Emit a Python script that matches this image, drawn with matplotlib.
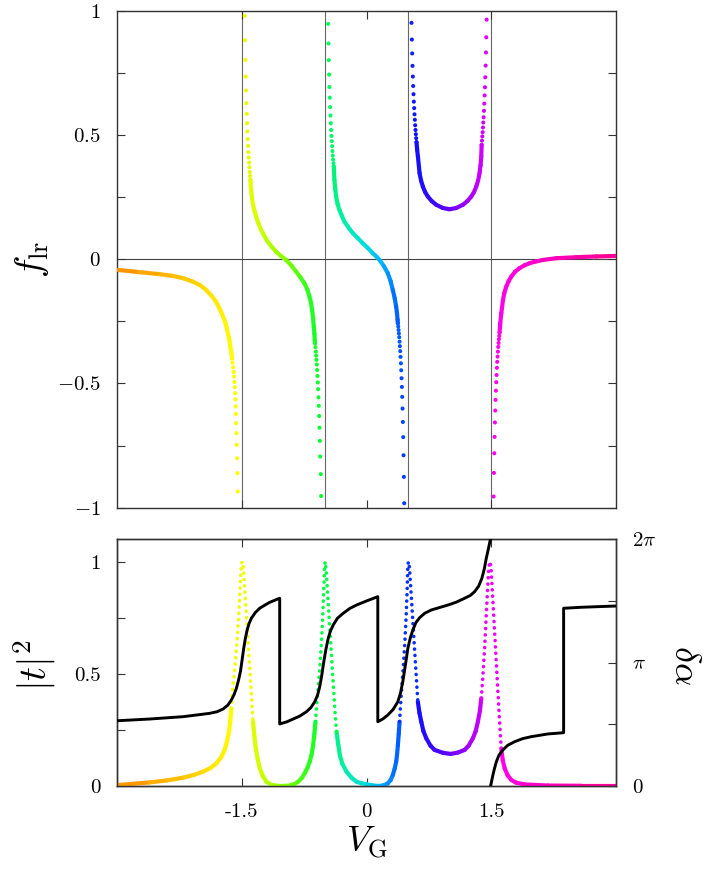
import numpy as np
import matplotlib
matplotlib.use('Agg')
import matplotlib.pyplot as plt
from matplotlib.collections import LineCollection
from matplotlib.colors import LinearSegmentedColormap, Normalize

plt.rcParams['mathtext.fontset'] = 'cm'
plt.rcParams['font.family'] = 'cmr10'
plt.rcParams['axes.formatter.use_mathtext'] = True

# ---------------- top panel: f_lr, one list per branch ----------------
# branch 1 (V_G < -1.5)
b1_line_v = [-3.0, -2.735, -2.5, -2.334, -2.2, -2.093, -2.0, -1.931, -1.87, -1.811,
             -1.76, -1.711, -1.68, -1.651, -1.635, -1.618]
b1_line_f = [-0.043, -0.052, -0.060, -0.067, -0.077, -0.090, -0.105, -0.124, -0.145, -0.171,
             -0.205, -0.244, -0.280, -0.324, -0.360, -0.399]
b1_dots_v = [-1.618, -1.615, -1.606, -1.598, -1.594, -1.590, -1.586, -1.582, -1.578,
             -1.574, -1.572, -1.570, -1.566, -1.562, -1.558, -1.554, -1.550]
b1_dots_f = [-0.399, -0.416, -0.435, -0.454, -0.472, -0.494, -0.515, -0.539, -0.564,
             -0.592, -0.623, -0.660, -0.700, -0.747, -0.801, -0.861, -0.935]

# branch 2 (-1.5 .. -0.5)
b2_dots_top_v = [-1.466, -1.462, -1.458, -1.454, -1.450, -1.446, -1.442, -1.438, -1.434,
                 -1.430, -1.426, -1.422, -1.418, -1.414, -1.410, -1.406, -1.402, -1.398]
b2_dots_top_f = [0.979, 0.881, 0.802, 0.735, 0.679, 0.628, 0.585, 0.547, 0.514,
                 0.483, 0.456, 0.431, 0.409, 0.389, 0.370, 0.351, 0.335, 0.319]
b2_line_v = [-1.398, -1.390, -1.370, -1.350, -1.329, -1.300, -1.269, -1.229, -1.189, -1.140,
             -1.088, -1.030, -0.968, -0.905, -0.847, -0.795, -0.747, -0.712, -0.687, -0.668,
             -0.655, -0.643, -0.635, -0.627, -0.623, -0.619]
b2_line_f = [0.319, 0.279, 0.225, 0.196, 0.172, 0.143, 0.118, 0.093, 0.070, 0.050,
             0.030, 0.013, -0.003, -0.025, -0.050, -0.073, -0.097, -0.122, -0.150, -0.176,
             -0.204, -0.238, -0.271, -0.300, -0.325, -0.338]
b2_dots_bot_v = [-0.619, -0.615, -0.610, -0.606, -0.602, -0.598, -0.594, -0.590, -0.586,
                 -0.582, -0.578, -0.574, -0.570, -0.566, -0.562, -0.558, -0.550, -0.546]
b2_dots_bot_f = [-0.338, -0.354, -0.372, -0.388, -0.405, -0.424, -0.446, -0.470, -0.496,
                 -0.523, -0.556, -0.590, -0.631, -0.678, -0.731, -0.794, -0.865, -0.953]

# branch 3 (-0.5 .. 0.5)
b3_dots_top_v = [-0.462, -0.458, -0.454, -0.450, -0.446, -0.442, -0.438, -0.434, -0.430,
                 -0.426, -0.422, -0.418, -0.414, -0.410, -0.406, -0.402, -0.398, -0.394]
b3_dots_top_f = [0.947, 0.868, 0.801, 0.743, 0.693, 0.650, 0.612, 0.578, 0.547,
                 0.520, 0.496, 0.475, 0.455, 0.435, 0.417, 0.401, 0.386, 0.373]
b3_line_v = [-0.394, -0.386, -0.376, -0.366, -0.348, -0.325, -0.295, -0.265, -0.205, -0.165,
             -0.105, -0.044, 0.016, 0.076, 0.118, 0.157, 0.210, 0.257, 0.290, 0.317,
             0.340, 0.357, 0.368, 0.374, 0.378]
b3_line_f = [0.373, 0.319, 0.282, 0.252, 0.222, 0.198, 0.173, 0.151, 0.122, 0.105,
             0.085, 0.064, 0.045, 0.024, 0.011, -0.003, -0.028, -0.057, -0.088, -0.124,
             -0.158, -0.191, -0.220, -0.244, -0.258]
b3_dots_bot_v = [0.378, 0.382, 0.386, 0.390, 0.394, 0.398, 0.402, 0.406, 0.410, 0.414,
                 0.418, 0.422, 0.426, 0.430, 0.434, 0.438, 0.442, 0.446, 0.450, 0.454]
b3_dots_bot_f = [-0.258, -0.271, -0.285, -0.299, -0.314, -0.332, -0.350, -0.370, -0.393, -0.419,
                 -0.447, -0.479, -0.514, -0.554, -0.601, -0.655, -0.716, -0.789, -0.876, -0.982]

# branch 4 (0.5 .. 1.5)
b4_dots_left_v = [0.542, 0.546, 0.550, 0.554, 0.558, 0.562, 0.566, 0.570,
                  0.574, 0.578, 0.582, 0.586, 0.590, 0.594, 0.598, 0.602]
b4_dots_left_f = [0.951, 0.884, 0.828, 0.778, 0.735, 0.697, 0.664, 0.634,
                  0.608, 0.583, 0.561, 0.539, 0.520, 0.503, 0.487, 0.471]
b4_line_v = [0.602, 0.610, 0.619, 0.639, 0.657, 0.679, 0.706, 0.739, 0.785, 0.839,
             0.920, 1.000, 1.080, 1.161, 1.215, 1.261, 1.294, 1.321, 1.343, 1.361,
             1.373, 1.382, 1.386]
b4_line_f = [0.471, 0.440, 0.413, 0.346, 0.316, 0.292, 0.270, 0.252, 0.234, 0.219,
             0.206, 0.201, 0.206, 0.219, 0.234, 0.252, 0.270, 0.292, 0.316, 0.346,
             0.378, 0.413, 0.460]
b4_dots_right_v = [1.386, 1.390, 1.394, 1.398, 1.402, 1.406, 1.410, 1.414,
                   1.418, 1.422, 1.426, 1.430, 1.434, 1.438, 1.442, 1.446]
b4_dots_right_f = [0.460, 0.477, 0.494, 0.511, 0.530, 0.550, 0.571, 0.597,
                   0.626, 0.659, 0.692, 0.732, 0.779, 0.832, 0.893, 0.964]

# branch 5 (V_G > 1.5)
b5_dots_v = [1.530, 1.534, 1.538, 1.542, 1.546, 1.550, 1.554, 1.558, 1.562, 1.566,
             1.570, 1.574, 1.578, 1.582, 1.586, 1.590, 1.594, 1.598, 1.602]
b5_dots_f = [-0.955, -0.860, -0.781, -0.715, -0.657, -0.609, -0.566, -0.529, -0.495, -0.466,
             -0.437, -0.413, -0.392, -0.372, -0.353, -0.337, -0.322, -0.309, -0.295]
b5_line_v = [1.602, 1.610, 1.623, 1.643, 1.660, 1.683, 1.710, 1.743, 1.790, 1.843,
             1.900, 1.964, 2.040, 2.125, 2.285, 2.526, 2.767, 3.0]
b5_line_f = [-0.295, -0.258, -0.217, -0.164, -0.135, -0.110, -0.089, -0.070, -0.050, -0.036,
             -0.025, -0.016, -0.009, -0.003, 0.004, 0.008, 0.011, 0.013]

poles = [-1.5, -0.5, 0.5, 1.5]

# ---------------- bottom panel: |t|^2 ----------------
tail_left_v = [-3.0, -2.61, -2.4, -2.209, -2.08, -1.968, -1.88, -1.807, -1.75, -1.707,
               -1.68, -1.655, -1.64, -1.627]
tail_left_t = [0.004, 0.016, 0.025, 0.037, 0.049, 0.064, 0.080, 0.101, 0.128, 0.161,
               0.198, 0.242, 0.290, 0.346]
peak1_v = [-1.627, -1.614, -1.586, -1.558, -1.538, -1.522, -1.506, -1.496, -1.486,
           -1.466, -1.446, -1.426, -1.406, -1.386, -1.366]
peak1_t = [0.346, 0.421, 0.525, 0.643, 0.762, 0.881, 0.993, 1.0, 0.993,
           0.881, 0.762, 0.643, 0.525, 0.406, 0.287]
valley1_v = [-1.366, -1.350, -1.333, -1.310, -1.285, -1.250, -1.205, -1.155, -1.104, -1.024,
             -0.924, -0.870, -0.823, -0.780, -0.743, -0.710, -0.683, -0.660, -0.642, -0.628,
             -0.614]
valley1_t = [0.287, 0.222, 0.168, 0.120, 0.079, 0.045, 0.019, 0.007, 0.002, 0.0,
             0.002, 0.008, 0.019, 0.035, 0.057, 0.082, 0.109, 0.142, 0.183, 0.230,
             0.287]
peak2_v = [-0.614, -0.590, -0.562, -0.542, -0.526, -0.514, -0.503, -0.495, -0.482,
           -0.462, -0.442, -0.422, -0.402, -0.382, -0.361]
peak2_t = [0.287, 0.406, 0.525, 0.643, 0.762, 0.881, 0.990, 1.0, 0.945,
           0.822, 0.703, 0.584, 0.465, 0.346, 0.242]
valley2_v = [-0.361, -0.340, -0.321, -0.290, -0.241, -0.180, -0.120, -0.060, 0.0, 0.08,
             0.157, 0.210, 0.257, 0.290, 0.317, 0.340, 0.357, 0.368, 0.378, 0.388, 0.398]
valley2_t = [0.242, 0.185, 0.138, 0.098, 0.064, 0.037, 0.019, 0.012, 0.008, 0.002,
             0.0, 0.004, 0.012, 0.026, 0.049, 0.078, 0.108, 0.140, 0.183, 0.232, 0.287]
peak3_v = [0.398, 0.418, 0.442, 0.462, 0.478, 0.490, 0.498, 0.508, 0.518,
           0.538, 0.558, 0.578, 0.598, 0.618]
peak3_t = [0.287, 0.406, 0.525, 0.643, 0.762, 0.881, 0.990, 1.0, 0.971,
           0.852, 0.733, 0.614, 0.495, 0.376]
valley3_v = [0.618, 0.638, 0.659, 0.685, 0.719, 0.770, 0.819, 0.920, 1.012, 1.100,
             1.181, 1.230, 1.281, 1.315, 1.341, 1.365, 1.382]
valley3_t = [0.376, 0.325, 0.287, 0.245, 0.213, 0.180, 0.161, 0.148, 0.143, 0.149,
             0.161, 0.180, 0.213, 0.245, 0.287, 0.335, 0.391]
peak4_v = [1.382, 1.402, 1.422, 1.438, 1.454, 1.470, 1.480, 1.490, 1.502,
           1.522, 1.542, 1.562, 1.582, 1.602, 1.622]
peak4_t = [0.391, 0.495, 0.614, 0.733, 0.852, 0.960, 0.995, 1.0, 0.955,
           0.822, 0.688, 0.554, 0.420, 0.287, 0.168]
tail_right_v = [1.622, 1.640, 1.663, 1.700, 1.743, 1.800, 1.904, 2.184, 2.586, 3.0]
tail_right_t = [0.168, 0.115, 0.079, 0.047, 0.027, 0.015, 0.007, 0.002, 0.001, 0.001]

# phase delta alpha, in units of pi (right axis)
phase1_v = [-3.0, -2.611, -2.208, -1.888, -1.800, -1.727, -1.670, -1.627, -1.595, -1.566,
            -1.540, -1.518, -1.498, -1.478, -1.460, -1.437, -1.415, -1.386, -1.340, -1.286,
            -1.220, -1.165, -1.100, -1.045,
            -1.045, -0.960, -0.883, -0.800, -0.723, -0.670, -0.623, -0.590, -0.563, -0.538,
            -0.514, -0.488, -0.461, -0.435, -0.401, -0.350, -0.281, -0.200, -0.120, 0.0,
            0.070, 0.136,
            0.136, 0.200, 0.257, 0.320, 0.377, 0.410, 0.437, 0.468, 0.498, 0.527,
            0.558, 0.595, 0.639, 0.700, 0.780, 0.980, 1.080, 1.181, 1.250, 1.301,
            1.350, 1.389, 1.418, 1.442, 1.468, 1.494]
phase1_a = [0.529, 0.543, 0.562, 0.589, 0.602, 0.624, 0.655, 0.697, 0.740, 0.792,
            0.860, 0.927, 1.020, 1.116, 1.190, 1.265, 1.315, 1.360, 1.405, 1.441,
            1.468, 1.489, 1.507, 1.522,
            0.503, 0.520, 0.543, 0.568, 0.602, 0.635, 0.683, 0.735, 0.805, 0.900,
            1.008, 1.110, 1.197, 1.255, 1.305, 1.360, 1.400, 1.440, 1.467, 1.500,
            1.518, 1.535,
            0.521, 0.545, 0.576, 0.620, 0.683, 0.755, 0.846, 0.980, 1.116, 1.200,
            1.265, 1.325, 1.364, 1.400, 1.427, 1.467, 1.490, 1.522, 1.545, 1.575,
            1.620, 1.684, 1.760, 1.846, 1.925, 2.008]
phase2_v = [1.494, 1.508, 1.522, 1.540, 1.563, 1.595, 1.642, 1.700, 1.783, 1.880,
            1.984, 2.184, 2.373, 2.373, 2.587, 2.787, 3.0]
phase2_a = [0.0, 0.045, 0.089, 0.140, 0.197, 0.250, 0.292, 0.330, 0.359, 0.384,
            0.400, 0.422, 0.432, 1.441, 1.449, 1.454, 1.459]

# colour palette along V_G
hue_pos = [-3.0, -2.2, -1.6, -1.3, -0.95, -0.55, -0.3, 0.0, 0.2, 0.45, 0.6, 1.0, 1.4, 1.55, 2.2, 3.0]
hue_col = ['#ff8c00', '#ffc400', '#ffff00', '#d4ff00', '#80ff00', '#00ff30', '#00f0a0',
           '#00dddd', '#00b0ff', '#0040ff', '#1010ff', '#6000ff', '#d000ff', '#ff00f0',
           '#ff00c0', '#ff0090']
norm = Normalize(-3.0, 3.0)
cmap = LinearSegmentedColormap.from_list(
    'vg', [((p + 3.0) / 6.0, c) for p, c in zip(hue_pos, hue_col)])

LW = 3.0
DOT = 8.5


def colour_line(ax, v, y, lw=LW):
    pts = np.column_stack([v, y])
    segs = np.stack([pts[:-1], pts[1:]], axis=1)
    mid = 0.5 * (pts[:-1, 0] + pts[1:, 0])
    lc = LineCollection(segs, colors=cmap(norm(mid)), linewidths=lw, capstyle='round', zorder=3)
    ax.add_collection(lc)


def colour_dots(ax, v, y):
    ax.scatter(v, y, s=DOT, c=cmap(norm(np.array(v))), linewidths=0, zorder=3)


def dotted_peak(ax, v, y):
    v = np.array(v)
    ax.plot(v, y, color=cmap(norm(v[np.argmax(y)])), lw=2.6, ls=(0, (0.01, 1.75)),
            dash_capstyle='round', zorder=3)


fig = plt.figure(figsize=(7.05, 8.73), dpi=100)
ax_top = fig.add_axes([117.3 / 705, 1 - 507.7 / 873, 498.4 / 705, 497.0 / 873])
ax_bot = fig.add_axes([117.3 / 705, 1 - 786.0 / 873, 498.4 / 705, 246.7 / 873])

frame = '#333333'
for ax in (ax_top, ax_bot):
    for sp in ax.spines.values():
        sp.set_color(frame)
        sp.set_linewidth(1.0)
    ax.set_xlim(-3, 3)
    ax.set_xticks([-1.5, 0, 1.5])

# top panel
for p in poles:
    ax_top.axvline(p, color='#666666', lw=0.8, zorder=1)
ax_top.axhline(0, color='#444444', lw=0.8, zorder=1)

colour_line(ax_top, b1_line_v, b1_line_f)
colour_dots(ax_top, b1_dots_v, b1_dots_f)
colour_dots(ax_top, b2_dots_top_v, b2_dots_top_f)
colour_line(ax_top, b2_line_v, b2_line_f)
colour_dots(ax_top, b2_dots_bot_v, b2_dots_bot_f)
colour_dots(ax_top, b3_dots_top_v, b3_dots_top_f)
colour_line(ax_top, b3_line_v, b3_line_f)
colour_dots(ax_top, b3_dots_bot_v, b3_dots_bot_f)
colour_dots(ax_top, b4_dots_left_v, b4_dots_left_f)
colour_line(ax_top, b4_line_v, b4_line_f)
colour_dots(ax_top, b4_dots_right_v, b4_dots_right_f)
colour_dots(ax_top, b5_dots_v, b5_dots_f)
colour_line(ax_top, b5_line_v, b5_line_f)

ax_top.set_ylim(-1, 1)
ax_top.set_yticks(np.arange(-1, 1.01, 0.25),
                  ['$-1$', '', '$-0.5$', '', '$0$', '', '$0.5$', '', '$1$'])
ax_top.tick_params(direction='in', length=6, width=0.8, color=frame,
                   top=True, right=True, labelsize=15, pad=12)
ax_top.tick_params(axis='x', labelbottom=False)
ax_top.text(-0.172, 0.5, r'$f_{\rm lr}$', transform=ax_top.transAxes,
            rotation=90, ha='center', va='center', fontsize=27)

# bottom panel
colour_line(ax_bot, tail_left_v, tail_left_t)
colour_line(ax_bot, valley1_v, valley1_t)
colour_line(ax_bot, valley2_v, valley2_t)
colour_line(ax_bot, valley3_v, valley3_t)
colour_line(ax_bot, tail_right_v, tail_right_t)
for pv, pt in [(peak1_v, peak1_t), (peak2_v, peak2_t), (peak3_v, peak3_t), (peak4_v, peak4_t)]:
    dotted_peak(ax_bot, pv, pt)

ax_bot.set_ylim(0, 1.1)
ax_bot.set_yticks([0, 0.25, 0.5, 0.75, 1], ['0', '', '0.5', '', '1'])
ax_bot.set_xticklabels(['-1.5', '0', '1.5'])
ax_bot.tick_params(direction='in', length=6, width=0.8, color=frame,
                   top=True, right=False, labelsize=15, pad=12)
ax_bot.tick_params(axis='x', pad=12)

ax_ph = ax_bot.twinx()
ax_ph.plot(phase1_v, np.array(phase1_a) * np.pi, color='black', lw=2.1, zorder=4)
ax_ph.plot(phase2_v, np.array(phase2_a) * np.pi, color='black', lw=2.1, zorder=4)
ax_ph.set_ylim(0, 2 * np.pi)
ax_ph.set_yticks(np.arange(0, 2.01, 0.5) * np.pi, ['$0$', '', r'$\pi$', '', r'$2\pi$'])
ax_ph.tick_params(direction='in', length=6, width=0.8, color=frame, labelsize=15, pad=12)
for sp in ax_ph.spines.values():
    sp.set_color(frame)
    sp.set_linewidth(1.0)

ax_bot.text(-0.165, 0.49, r'$|t|^2$', transform=ax_bot.transAxes,
            rotation=90, ha='center', va='center', fontsize=28)
ax_bot.text(1.136, 0.49, r'$\delta\alpha$', transform=ax_bot.transAxes,
            rotation=-90, ha='center', va='center', fontsize=26)
ax_bot.text(0.5, -0.232, r'$V_{\rm G}$', transform=ax_bot.transAxes,
            ha='center', va='center', fontsize=26)

fig.savefig('out.png', dpi=100)
